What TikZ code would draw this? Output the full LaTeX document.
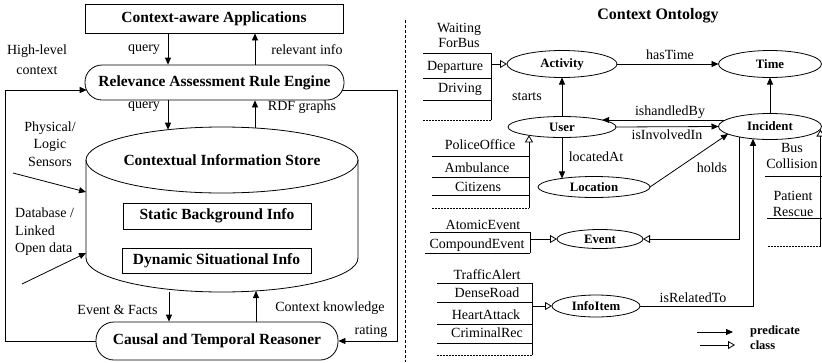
\documentclass[tikz,border=0pt]{standalone}
\usepackage{fontspec}
\setmainfont{Liberation Serif}
\usetikzlibrary{shapes.geometric,arrows.meta,calc}
\tikzset{
  lab/.style={font=\fontsize{14}{17}\selectfont, inner sep=0pt},
  boldbox/.style={draw, line width=0.8pt, font=\fontsize{15.5}{18}\selectfont\bfseries, inner sep=0pt},
  ell/.style={draw, ellipse, line width=0.8pt, inner sep=0pt, outer sep=0pt, font=\fontsize{12.8}{15}\selectfont\bfseries},
  pred/.style={-{Triangle[length=7pt,width=6pt]}, line width=0.8pt},
  cls/.style={-{Triangle[open,length=7pt,width=8pt]}, line width=0.8pt},
  ln/.style={line width=0.8pt},
  dashln/.style={dash pattern=on 2pt off 1pt, line width=0.8pt},
  legtext/.style={font=\fontsize{12.5}{15}\selectfont\bfseries, inner sep=0pt, anchor=west},
}
\begin{document}
\begin{tikzpicture}[x=1pt,y=-1pt]
\useasboundingbox (0,0) rectangle (822,362);
% ---------- left part ----------
\node[boldbox, minimum width=258pt, minimum height=29pt] (app) at (214,18.5) {Context-aware Applications};
\node[boldbox, rounded corners=17pt, minimum width=259pt, minimum height=35pt] (rule) at (214.5,82.5) {Relevance Assessment Rule Engine};
% cylinder
\draw[ln] (222,160) ellipse [x radius=136pt, y radius=33pt];
\draw[ln] (86,160) -- (86,258) arc[start angle=180, end angle=360, x radius=136pt, y radius=34pt] -- (358,160);
\node[font=\fontsize{15.5}{18}\selectfont\bfseries, inner sep=0pt] (store) at (222,160) {Contextual Information Store};
\coordinate (cq) at (168,129.7);
\coordinate (crdf) at (255,128);
\coordinate (cev) at (169,291.5);
\coordinate (cck) at (256,291);
\coordinate (csens) at (86,192);
\coordinate (cdb) at (86,253);
\node[boldbox, minimum width=188pt, minimum height=26pt] (static) at (217,216) {Static Background Info};
\node[boldbox, minimum width=189pt, minimum height=25pt] (dyn) at (216.5,260.5) {Dynamic Situational Info};
\node[boldbox, rounded corners=18pt, minimum width=242pt, minimum height=38pt] (causal) at (217,341) {Causal and Temporal Reasoner};
% arrows
\draw[pred] (app.south -| 168,0) -- (rule.north -| 168,0);
\draw[pred] (rule.north -| 255,0) -- (app.south -| 255,0);
\draw[pred] (rule.south -| 168,0) -- (cq);
\draw[pred] (crdf) -- (rule.south -| 255,0);
\draw[pred] (cev) -- (causal.north -| 169,0);
\draw[pred] (causal.north -| 256,0) -- (cck);
\coordinate (rl) at (86.7,90);
\coordinate (rr) at (342.3,90);
\draw[pred] (causal.west) -- (5,341) -- (5,90) -- (rl);
\draw[pred] (rr) -- (397,90) -- (397,341) -- (causal.east);
\coordinate (s0) at (13,173);
\coordinate (d0) at (22,284);
\draw[pred] (s0) -- (csens);
\draw[pred] (d0) -- (cdb);
% labels
\node[lab] at (144,50) {query};
\node[lab] at (307,50) {relevant info};
\node[lab] at (144,107) {query};
\node[lab] at (302,107) {RDF graphs};
\node[lab, align=center, font=\fontsize{14}{20}\selectfont] at (37,60) {High-level\\context};
\node[lab, align=center, font=\fontsize{14}{17.5}\selectfont] at (50,144) {Physical/\\Logic\\Sensors};
\node[lab, align=left, anchor=west, font=\fontsize{14}{17.5}\selectfont] at (15,232) {Database /\\Linked\\Open data};
\node[lab] at (117.5,310) {Event \& Facts};
\node[lab] at (330,308) {Context knowledge};
\node[lab] at (371,331) {rating};
% separator
\draw[dash pattern=on 3pt off 2pt, line width=0.7pt] (405,20) -- (405,362);
% ---------- right part ----------
\node[font=\fontsize{16}{19}\selectfont\bfseries, inner sep=0pt] (title) at (658,16) {Context Ontology};
\node[ell, minimum width=110pt, minimum height=27pt] (act) at (562,64) {Activity};
\node[ell, minimum width=103pt, minimum height=27pt] (time) at (770,64) {Time};
\node[ell, minimum width=108pt, minimum height=21pt] (user) at (562,127) {User};
\node[ell, minimum width=103pt, minimum height=26pt] (inc) at (770,126.5) {Incident};
\node[ell, minimum width=112pt, minimum height=21pt] (loc) at (594,187) {Location};
\node[ell, minimum width=86pt, minimum height=19pt] (event) at (600,239) {Event};
\node[ell, minimum width=88pt, minimum height=22pt] (info) at (596,306) {InfoItem};
% predicates
\draw[pred] (act.east) -- (time.west);
\node[lab] at (670,55) {hasTime};
\draw[pred] (user.north) -- (act.south);
\node[lab] at (527,97) {starts};
\draw[pred] (inc.north) -- (time.south);
\draw[pred] ($(inc.center)+(-44.6,-6.5)$) -- ($(user.center)+(40.2,-7)$);
\node[lab] at (670,112) {ishandledBy};
\draw[pred] (user.east) -- (inc.west);
\node[lab] at (667,135) {isInvolvedIn};
\draw[pred] (user.south) -- ($(loc.center)+(-32,-8.6)$);
\node[lab] at (596,157) {locatedAt};
\draw[pred] (loc.east) -- ($(inc.center)+(-42,7.5)$);
\node[lab] at (712,168) {holds};
\draw[cls] ($(inc.center)+(-31,10.4)$) |- (event.east);
\draw[pred] (info.east) -| ($(inc.center)+(-17,12.3)$);
\node[lab] at (693,298) {isRelatedTo};
% Incident subclasses (clipped at right)
\draw[cls] (820.5,246) -- ($(inc.center)+(50.5,3)$);
\draw[ln] (765,176) -- (822,176);
\draw[ln] (767,218) -- (822,218);
\draw[dashln] (768,246) -- (822,246);
\node[lab, align=center, font=\fontsize{14}{16}\selectfont] at (792,155.5) {Bus\\Collision};
\node[lab, align=center, font=\fontsize{14}{16}\selectfont] at (793,204) {Patient\\Rescue};
% Activity subclasses
\draw[ln] (423,53) -- (491,53);
\draw[ln] (423,78) -- (491,78);
\draw[ln] (423,100) -- (491,100);
\draw[dashln] (423,120) -- (491,120);
\draw[ln] (491,53) -- (491,120);
\draw[cls] (491,64) -- (act.west);
\node[lab, align=center, font=\fontsize{14}{15}\selectfont] at (459,35.5) {Waiting\\ForBus};
\node[lab] at (455,67) {Departure};
\node[lab] at (460,89) {Driving};
% User subclasses
\draw[ln] (432,156) -- (529,156);
\draw[ln] (432,177) -- (529,177);
\draw[ln] (432,195) -- (529,195);
\draw[dashln] (432,208) -- (529,208);
\draw[cls] (529,208) -- ($(user.center)+(-33,8.3)$);
\node[lab] at (480,145) {PoliceOffice};
\node[lab] at (477,168) {Ambulance};
\node[lab] at (478,187) {Citizens};
% Event subclasses
\draw[ln] (430,232) -- (530,232);
\draw[ln] (425,253) -- (530,253);
\draw[ln] (530,232) -- (530,253);
\draw[cls] (530,239) -- (event.west);
\node[lab] at (483,225) {AtomicEvent};
\node[lab] at (477,245) {CompoundEvent};
% InfoItem subclasses
\draw[ln] (437,283) -- (532,283);
\draw[ln] (437,302) -- (532,302);
\draw[ln] (437,324) -- (532,324);
\draw[ln] (437,343) -- (532,343);
\draw[dashln] (437,355) -- (532,355);
\draw[ln] (532,283) -- (532,355);
\draw[cls] (532,306) -- (info.west);
\node[lab] at (487,275) {TrafficAlert};
\node[lab] at (487,293) {DenseRoad};
\node[lab] at (486,315) {HeartAttack};
\node[lab] at (487,333) {CriminalRec};
% legend
\coordinate (lp1) at (697,332);
\coordinate (lp2) at (733,332);
\coordinate (lc1) at (700,345);
\coordinate (lc2) at (735,345);
\draw[pred] (lp1) -- (lp2);
\draw[cls] (lc1) -- (lc2);
\node[legtext] at (750,331) {predicate};
\node[legtext] at (750,345) {class};
\end{tikzpicture}
\end{document}
